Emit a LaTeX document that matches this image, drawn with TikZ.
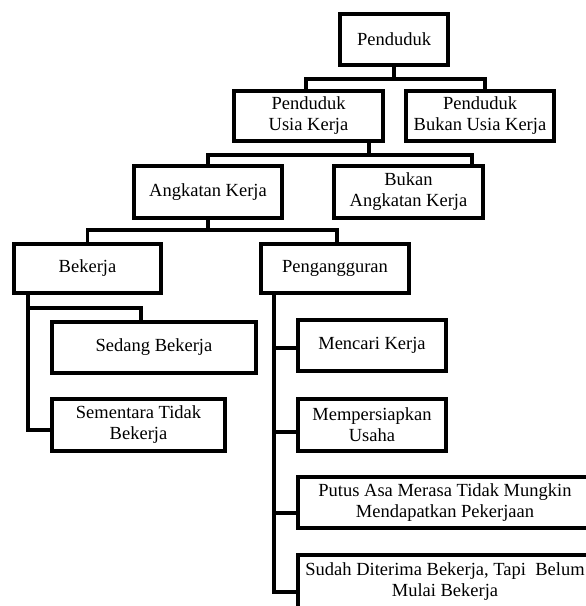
\documentclass[tikz,border=0pt]{standalone}
\usepackage{fontspec}
\setmainfont{Liberation Serif}
\begin{document}
\begin{tikzpicture}[x=1pt,y=-1pt,
  box/.style={draw, line width=3.9pt, inner sep=0pt, align=center,
    font=\fontsize{18.5}{21}\selectfont},
  conn/.style={draw, line width=3.9pt, line join=miter}]
\useasboundingbox (0,0) rectangle (586,606);
\clip (0,0) rectangle (586,606);
% boxes
\node[box, minimum width=108.1, minimum height=51.1] (pend) at (394,39.5) {Penduduk};
\node[box, minimum width=149.1, minimum height=50.1] (puk) at (308.5,116) {Penduduk\\Usia Kerja};
\node[box, minimum width=148.1, minimum height=50.1] (pbuk) at (480,116) {Penduduk\\Bukan Usia Kerja};
\node[box, minimum width=148.1, minimum height=52.1] (ak) at (208,192) {Angkatan Kerja};
\node[box, minimum width=149.1, minimum height=52.1] (bak) at (408.5,192) {Bukan\\Angkatan Kerja};
\node[box, minimum width=147.1, minimum height=49.1] (bek) at (87.5,268.5) {Bekerja};
\node[box, minimum width=148.1, minimum height=49.1] (peng) at (335,268.5) {Pengangguran};
\node[box, minimum width=204.1, minimum height=51.1] (sedang) at (154,347.5) {Sedang Bekerja};
\node[box, minimum width=173.1, minimum height=52.1] (sementara) at (138.5,425) {Sementara Tidak\\Bekerja};
\node[box, minimum width=148.1, minimum height=51.1] (mencari) at (372,345.5) {Mencari Kerja};
\node[box, minimum width=148.1, minimum height=52.1] (siap) at (372,425) {Mempersiapkan\\Usaha};
\node[box, minimum width=294.1, minimum height=51.1] (putus) at (445,502.5) {Putus Asa Merasa Tidak Mungkin\\Mendapatkan Pekerjaan};
\node[box, minimum width=294.1, minimum height=54.1] (sudah) at (445,582) {Sudah Diterima Bekerja, Tapi\ \ Belum\\Mulai Bekerja};
% bar levels
\coordinate (h1) at (0,79);
\coordinate (h2) at (0,155);
\coordinate (h3) at (0,230);
\coordinate (h4) at (0,308);
% level 1
\coordinate (d1a) at ([xshift=-2.5pt]puk.north);
\coordinate (d1b) at ([xshift=5pt]pbuk.north);
\draw[conn] (pend.south) -- (pend.south |- h1);
\draw[conn] (d1a) |- (d1b |- h1) -- (d1b);
% level 2
\coordinate (s2) at ([xshift=60.5pt]puk.south);
\coordinate (d2b) at ([xshift=63.5pt]bak.north);
\draw[conn] (s2) -- (s2 |- h2);
\draw[conn] (ak.north) |- (d2b |- h2) -- (d2b);
% level 3
\coordinate (d3b) at ([xshift=2pt]peng.north);
\draw[conn] (ak.south) -- (ak.south |- h3);
\draw[conn] (bek.north) |- (d3b |- h3) -- (d3b);
% Bekerja branch
\coordinate (bv) at ([xshift=-59.5pt]bek.south);
\coordinate (sd) at ([xshift=-13pt]sedang.north);
\coordinate (sm) at ([yshift=-5pt]sementara.west);
\draw[conn] (bv) |- (sm);
\draw[conn] (bv |- h4) -| (sd);
% Pengangguran branch
\coordinate (pv) at ([xshift=-61pt]peng.south);
\coordinate (m1) at ([yshift=-2.5pt]mencari.west);
\coordinate (m2) at ([yshift=-7pt]siap.west);
\coordinate (m3) at ([yshift=-10.5pt]putus.west);
\coordinate (m4) at ([yshift=-10pt]sudah.west);
\draw[conn] (pv) |- (m4);
\draw[conn] (pv |- m1) -- (m1);
\draw[conn] (pv |- m2) -- (m2);
\draw[conn] (pv |- m3) -- (m3);
\end{tikzpicture}
\end{document}
